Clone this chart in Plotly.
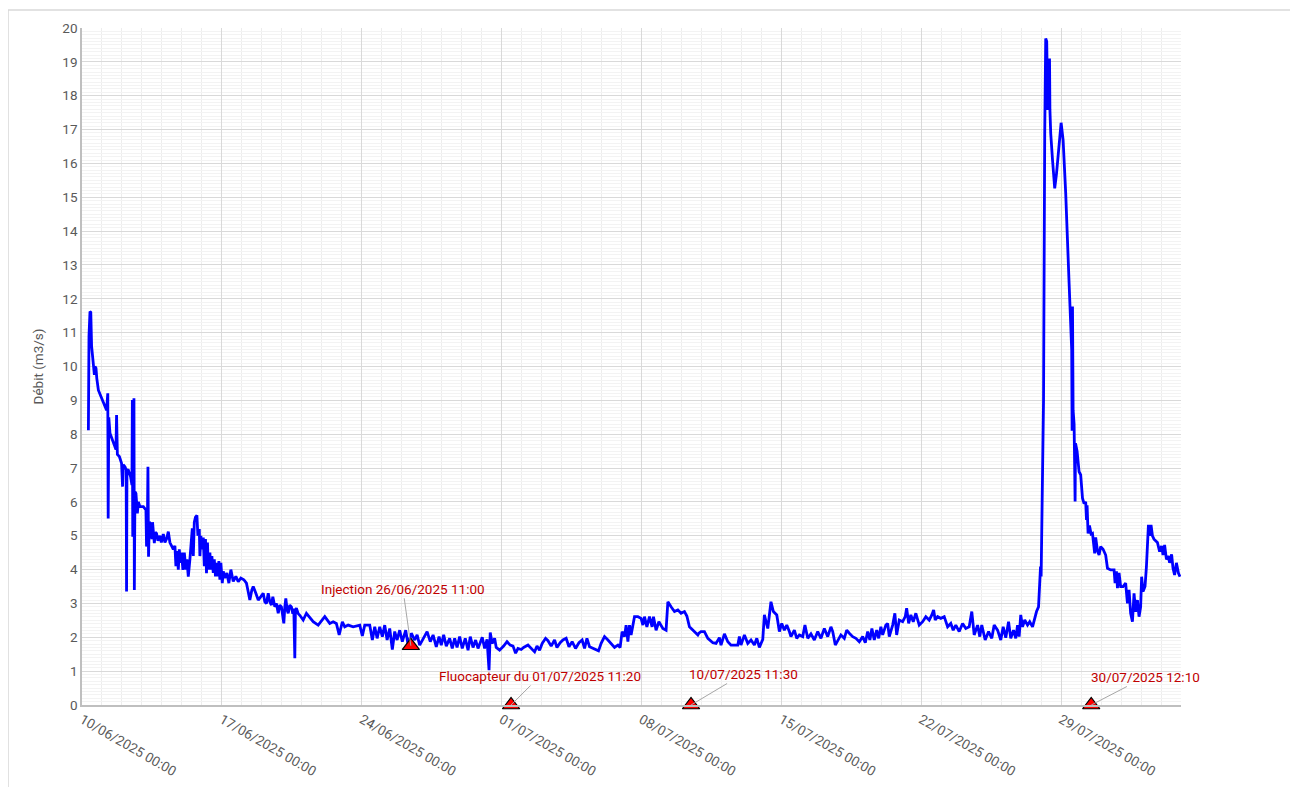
import pandas as pd
import plotly.graph_objects as go

# Elapsed time (days since 10/06/2025 00:00) and flow (m3/s)
jours = [
    0.32, 0.35, 0.40, 0.44, 0.48, 0.57, 0.62, 0.65, 0.70, 0.74, 0.82, 1.23, 1.29, 1.31, 1.34, 1.40,
    1.65, 1.70, 1.73, 1.77, 1.87, 1.98, 2.03, 2.06, 2.15, 2.21, 2.23, 2.25, 2.32, 2.43, 2.50, 2.52,
    2.54, 2.57, 2.60, 2.62, 2.65, 2.70, 2.77, 2.82, 2.90, 3.07, 3.20, 3.23, 3.27, 3.30, 3.33, 3.37,
    3.43, 3.50, 3.53, 3.62, 3.67, 3.73, 3.80, 3.90, 3.97, 4.07, 4.15, 4.23, 4.32, 4.40, 4.50, 4.57,
    4.65, 4.70, 4.75, 4.82, 4.87, 4.92, 4.98, 5.05, 5.12, 5.20, 5.25, 5.32, 5.40, 5.48, 5.52, 5.57,
    5.62, 5.68, 5.75, 5.80, 5.87, 5.90, 5.95, 6.00, 6.07, 6.12, 6.18, 6.23, 6.28, 6.32, 6.40, 6.45,
    6.50, 6.57, 6.62, 6.68, 6.73, 6.80, 6.85, 6.90, 6.95, 7.02, 7.07, 7.15,
    7.25, 7.35, 7.45, 7.57, 7.70, 7.82, 7.95, 8.10, 8.23, 8.30, 8.40, 8.50, 8.57, 8.70, 8.82, 8.95,
    9.07, 9.15, 9.23, 9.32, 9.40, 9.48, 9.55, 9.65, 9.73, 9.82, 9.90, 9.98, 10.05, 10.10, 10.15, 10.20,
    10.27, 10.32, 10.40, 10.48, 10.55, 10.60, 10.65, 10.68, 10.73, 10.82, 10.90,
    11.07, 11.23, 11.57, 11.82, 12.15, 12.40, 12.57, 12.73, 12.87, 13.03, 13.15, 13.32, 13.57, 13.90,
    14.03, 14.15, 14.40, 14.53, 14.65, 14.77, 14.90, 15.03, 15.15, 15.27, 15.40, 15.53, 15.65, 15.77,
    15.90, 16.03, 16.20, 16.32, 16.48, 16.65, 16.77, 16.90, 17.10, 17.27, 17.43, 17.57, 17.73, 17.87,
    17.98, 18.10, 18.23, 18.40, 18.53, 18.65, 18.77, 18.90, 19.03, 19.18, 19.32, 19.43, 19.57, 19.70,
    19.82, 19.95, 20.03, 20.15, 20.27, 20.37, 20.43, 20.53, 20.65, 20.73, 20.90, 21.10, 21.27, 21.43,
    21.57, 21.70, 21.82, 21.98, 22.10, 22.32, 22.48, 22.65, 22.77, 22.90, 23.03, 23.20, 23.32, 23.48,
    23.65, 23.77, 23.93, 24.07, 24.23, 24.37, 24.53, 24.70, 24.87, 25.03, 25.15, 25.27, 25.40, 25.57,
    25.73, 25.85, 25.98, 26.15, 26.32, 26.48, 26.65, 26.82, 26.93, 27.03, 27.15, 27.23, 27.32, 27.40,
    27.48, 27.65, 27.82, 27.98, 28.07, 28.15, 28.27, 28.40, 28.53, 28.60, 28.73, 28.87, 29.07, 29.23,
    29.32, 29.48, 29.65, 29.82, 29.98, 30.15, 30.27, 30.40, 30.57, 30.82,
    30.87, 30.98, 31.15, 31.32, 31.57, 31.73, 31.90, 31.98, 32.15, 32.32, 32.48, 32.65, 32.82, 32.90,
    32.98, 33.15, 33.32, 33.48, 33.65, 33.77, 33.90, 34.07, 34.15, 34.32, 34.48, 34.60, 34.77, 34.90,
    35.02, 35.15, 35.27, 35.40, 35.48, 35.65, 35.77, 35.90, 36.07, 36.18, 36.32, 36.48, 36.65, 36.82,
    36.98, 37.15, 37.32, 37.48, 37.57, 37.70, 37.82, 37.98, 38.15, 38.27, 38.40, 38.57, 38.73, 38.90,
    39.07, 39.20, 39.32, 39.43, 39.53, 39.65, 39.77, 39.87, 39.98, 40.07, 40.23, 40.32, 40.40, 40.57,
    40.68, 40.77, 40.90, 41.07, 41.20, 41.27, 41.37, 41.48, 41.60, 41.73, 41.90, 42.07, 42.23, 42.40,
    42.53, 42.62, 42.70, 42.82, 42.98, 43.15, 43.32, 43.48, 43.60, 43.73, 43.90, 44.07, 44.23, 44.40,
    44.53, 44.65, 44.82, 44.93, 45.03, 45.20, 45.37, 45.53, 45.65, 45.82, 45.98, 46.10, 46.23, 46.37,
    46.48, 46.62, 46.73, 46.82, 46.90, 46.98, 47.07, 47.18, 47.32, 47.43, 47.57, 47.68, 47.77, 47.87,
    47.97, 48.00, 48.03, 48.07, 48.12, 48.18, 48.23, 48.28, 48.33, 48.38, 48.42, 48.44, 48.48, 48.57,
    48.68, 48.77, 48.90, 49.00, 49.10, 49.23, 49.40, 49.53, 49.55, 49.57, 49.60, 49.65, 49.70, 49.72,
    49.80, 49.90, 49.98, 50.07, 50.15, 50.23, 50.27, 50.30, 50.35, 50.42, 50.50, 50.57, 50.68, 50.73,
    50.82, 50.90, 50.98, 51.10, 51.23, 51.32, 51.48, 51.65, 51.70, 51.77, 51.82, 51.90, 51.98, 52.10,
    52.23, 52.32, 52.40, 52.48, 52.57, 52.65, 52.73, 52.82, 52.90, 52.98, 53.03, 53.10, 53.20, 53.27,
    53.37, 53.43, 53.50, 53.57, 53.65, 53.82, 53.93, 54.03, 54.10, 54.18, 54.27, 54.37, 54.43, 54.53,
    54.60, 54.68, 54.77, 54.87, 54.95,
]
debit = [
    8.12, 10.9, 11.62, 11.6, 10.6, 10.0, 9.75, 10.0, 9.95, 9.65, 9.3, 8.71, 9.21, 5.51, 8.5, 8.03,
    7.63, 7.55, 8.57, 7.4, 7.34, 7.14, 6.45, 7.1, 7.04, 6.95, 3.35, 6.95, 6.94, 6.75, 6.5, 9.01,
    4.97, 9.0, 9.06, 3.40, 6.3, 6.25, 5.66, 6.0, 5.86, 5.86, 5.76, 4.68, 5.2, 7.04, 4.38, 5.4,
    5.37, 4.9, 5.4, 4.78, 5.1, 5.07, 4.85, 5.0, 4.8, 5.05, 4.8, 4.9, 5.12, 4.8, 4.7, 4.6,
    4.7, 4.1, 4.55, 4.0, 4.6, 4.2, 4.5, 3.99, 4.5, 4.0, 4.3, 3.79, 4.3, 5.0, 5.22, 4.4,
    5.4, 5.55, 5.6, 5.0, 5.2, 4.4, 5.0, 4.6, 4.95, 4.1, 4.9, 3.89, 4.8, 4.0, 4.5, 4.0,
    4.4, 3.9, 4.3, 3.8, 4.2, 3.8, 4.25, 3.7, 4.2, 3.6, 3.95, 3.75,
    3.9, 3.6, 4.0, 3.65, 3.8, 3.64, 3.75, 3.7, 3.6, 3.4, 3.10, 3.4, 3.5, 3.3, 3.1, 3.2,
    3.3, 3.05, 3.0, 3.3, 3.05, 2.95, 3.2, 2.9, 3.0, 2.71, 2.95, 2.9, 2.6, 2.41, 2.9, 3.15,
    2.8, 2.71, 2.95, 2.9, 2.7, 2.85, 1.38, 2.8, 2.86, 2.7, 2.65,
    2.51, 2.71, 2.46, 2.36, 2.61, 2.41, 2.46, 2.41, 2.07, 2.46, 2.31, 2.36, 2.31, 2.36,
    2.04, 2.36, 2.36, 1.92, 2.31, 1.97, 2.31, 2.02, 2.36, 1.92, 2.26, 1.64, 2.17, 1.92,
    2.21, 1.87, 2.21, 1.77, 2.12, 1.92, 2.07, 1.77, 1.97, 2.17, 1.87, 2.07, 1.72, 2.02,
    1.77, 2.07, 1.74, 1.97, 1.67, 1.97, 1.70, 2.02, 1.67, 1.97, 1.62, 2.02, 1.70, 1.92,
    1.67, 1.90, 2.00, 1.67, 1.94, 1.03, 2.14, 1.82, 1.97, 1.70, 1.62, 1.74, 1.87, 1.77,
    1.74, 1.53, 1.67, 1.64, 1.70, 1.77, 1.67, 1.57, 1.74, 1.62, 1.82, 1.97, 1.90, 1.74,
    1.92, 1.70, 1.84, 1.92, 1.97, 1.72, 1.87, 1.67, 1.84, 1.92, 1.67, 1.97, 1.72, 1.67,
    1.64, 1.60, 1.82, 2.02, 1.92, 1.82, 1.70, 1.77, 1.70, 2.17, 2.02, 2.36, 1.87, 2.36,
    2.07, 2.61, 2.61, 2.56, 2.36, 2.61, 2.31, 2.61, 2.31, 2.61, 2.21, 2.46, 2.26, 2.21,
    3.05, 2.90, 2.76, 2.81, 2.71, 2.76, 2.63, 2.31, 2.21, 2.07,
    2.12, 2.17, 2.17, 1.97, 1.84, 1.82, 1.99, 1.77, 2.10, 1.87, 1.77, 1.77, 1.77, 2.02,
    1.77, 2.07, 1.82, 1.92, 1.77, 1.97, 1.70, 1.94, 2.66, 2.26, 3.05, 2.76, 2.66, 2.17,
    2.41, 2.21, 2.36, 2.17, 2.02, 2.21, 1.97, 2.07, 2.02, 2.36, 1.97, 2.10, 1.92, 2.17,
    1.97, 2.26, 2.02, 2.31, 2.17, 1.77, 1.92, 2.07, 1.97, 2.21, 2.12, 2.02, 1.97, 1.87,
    2.02, 1.84, 2.17, 1.92, 2.26, 1.92, 2.21, 1.97, 2.31, 2.07, 2.36, 2.41, 2.02, 2.36,
    2.71, 2.07, 2.51, 2.46, 2.61, 2.86, 2.41, 2.66, 2.46, 2.71, 2.36, 2.46, 2.61, 2.51,
    2.66, 2.81, 2.51, 2.61, 2.56, 2.61, 2.31, 2.41, 2.21, 2.36, 2.17, 2.41, 2.26, 2.31,
    2.76, 2.07, 2.36, 2.02, 2.36, 1.92, 2.17, 1.97, 2.36, 2.21, 1.92, 2.31, 1.99, 2.46,
    1.97, 2.21, 1.97, 2.36, 2.02, 2.66, 2.31, 2.51, 2.36, 2.46, 2.31, 2.61, 2.76, 2.9,
    4.09, 3.8, 5.07, 6.55, 9.0, 16.89, 19.69, 19.6, 17.58, 18.86, 19.1, 17.58, 16.89, 16.1,
    15.26, 15.7, 16.69, 17.2, 16.69, 15.12, 12.46, 10.49, 8.1, 11.77, 8.71, 8.3, 6.01, 7.73,
    7.5, 6.89, 6.8, 6.11, 5.95, 6.0, 5.47, 5.9, 5.07, 5.3, 5.05, 5.07, 4.48, 4.95,
    4.55, 4.43, 4.68, 4.6, 4.43, 4.04, 3.99, 3.99, 3.60, 3.95, 3.45, 3.9, 3.5, 3.5,
    3.6, 3.0, 3.4, 2.71, 2.46, 3.3, 2.75, 3.1, 2.61, 2.9, 3.79, 3.35, 3.5, 4.09,
    5.32, 5.0, 5.32, 5.0, 4.9, 4.8, 4.53, 4.7, 4.43, 4.73, 4.3, 4.4, 4.2, 4.45,
    4.04, 3.84, 4.2, 3.9, 3.79,
]

# Events (markers + labels)
event_dates = ["2025-06-26 11:00", "2025-07-01 11:20", "2025-07-10 11:30", "2025-07-30 12:10"]
event_values = [1.75, 0, 0, 0]
event_labels = ["Injection 26/06/2025 11:00", "Fluocapteur du 01/07/2025 11:20",
                "10/07/2025 11:30", "30/07/2025 12:10"]
label_offsets = [(-8, -57), (29, -29), (52, -31), (54, -28)]

start = pd.Timestamp("2025-06-10 00:00")
x_time = start + pd.to_timedelta(jours, unit="D")

GRAY_TXT = "#595959"
FONT = "Roboto"

fig = go.Figure()
fig.add_trace(go.Scatter(
    x=x_time, y=debit, mode="lines",
    line=dict(color="#0000FF", width=2.8),
    showlegend=False,
))
fig.add_trace(go.Scatter(
    x=pd.to_datetime(event_dates), y=event_values, mode="markers",
    marker=dict(symbol="triangle-up", size=15, color="#FF0000",
                line=dict(color="#000000", width=1.2)),
    cliponaxis=False, showlegend=False,
))

for d, v, lab, (ax, ay) in zip(event_dates, event_values, event_labels, label_offsets):
    fig.add_annotation(
        x=pd.Timestamp(d), y=v, text=lab, showarrow=True,
        arrowhead=0, arrowwidth=1, arrowcolor="#a6a6a6",
        ax=ax, ay=ay, font=dict(family=FONT, size=13.5, color="#C00000"),
    )

fig.add_shape(type="rect", xref="paper", yref="paper",
              x0=-0.0673, x1=1.1001, y0=-0.2, y1=1.0266,
              line=dict(color="#d9d9d9", width=1.5), layer="below")

fig.update_layout(
    width=1298, height=787,
    margin=dict(l=74, r=125, t=20, b=90, autoexpand=False),
    paper_bgcolor="white", plot_bgcolor="white",
    font=dict(family=FONT, size=13, color=GRAY_TXT),
)
fig.update_xaxes(
    range=[pd.Timestamp("2025-06-10"), pd.Timestamp("2025-08-04")],
    tick0="2025-06-10", dtick=7 * 86400000, tickformat="%d/%m/%Y %H:%M",
    tickangle=30, tickfont=dict(family=FONT, size=13.5, color=GRAY_TXT),
    showgrid=True, gridcolor="#d9d9d9", gridwidth=1,
    minor=dict(dtick=86400000, tick0="2025-06-10", showgrid=True, gridcolor="#ededed", gridwidth=1),
    showline=True, linecolor="#bfbfbf", linewidth=1.5, ticks="", zeroline=False,
)
fig.update_yaxes(
    range=[0, 20], dtick=1, tick0=0,
    tickfont=dict(family=FONT, size=13.5, color=GRAY_TXT),
    title=dict(text="Débit (m3/s)", font=dict(family=FONT, size=13.5, color=GRAY_TXT), standoff=16),
    showgrid=True, gridcolor="#d9d9d9", gridwidth=1,
    minor=dict(dtick=0.1, showgrid=True, gridcolor="#f3f3f3", gridwidth=1),
    showline=True, linecolor="#bfbfbf", linewidth=1.5, ticks="", zeroline=False,
)

fig.write_html("out.html")
